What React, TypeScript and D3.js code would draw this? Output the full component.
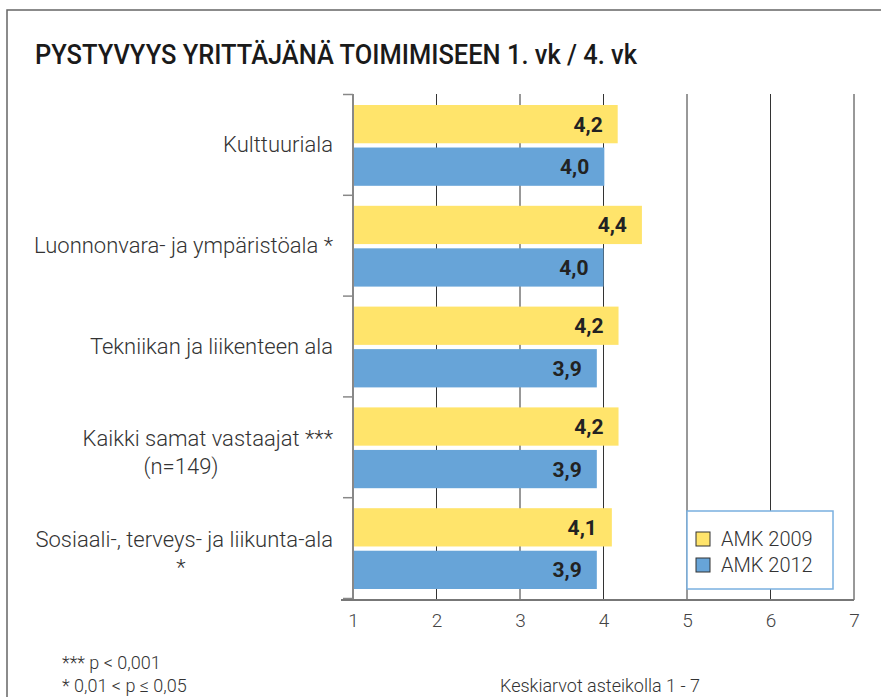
import React, { useEffect, useRef } from 'react';
import * as d3 from 'd3';

// categories (lines of each label)
const categories = [
  ['Kulttuuriala'],
  ['Luonnonvara- ja ympäristöala *'],
  ['Tekniikan ja liikenteen ala'],
  ['Kaikki samat vastaajat ***', '(n=149)'],
  ['Sosiaali-, terveys- ja liikunta-ala', '*'],
];
const seriesNames = ['AMK 2009', 'AMK 2012'];
const values2009 = [4.17, 4.46, 4.18, 4.18, 4.1];
const values2012 = [4.01, 4.0, 3.92, 3.92, 3.92];
const labels2009 = ['4,2', '4,4', '4,2', '4,2', '4,1'];
const labels2012 = ['4,0', '4,0', '3,9', '3,9', '3,9'];
const xTicks = [1, 2, 3, 4, 5, 6, 7];
const title = 'PYSTYVYYS YRITTÄJÄNÄ TOIMIMISEEN 1. vk / 4. vk';
const footnotes = ['*** p < 0,001', '* 0,01 < p ≤ 0,05'];
const scaleNote = 'Keskiarvot asteikolla 1 - 7';

const colors = ['#ffe46b', '#67a4d8'];
const font = 'Roboto, sans-serif';

function App() {
  const ref = useRef(null);

  useEffect(() => {
    const W = 881, H = 697;
    const svg = d3.select(ref.current).html('')
      .append('svg')
      .attr('width', W)
      .attr('height', H)
      .style('position', 'absolute')
      .style('left', 0)
      .style('top', 0)
      .style('font-family', font);

    svg.append('rect').attr('width', W).attr('height', H).attr('fill', '#fff');

    // outer frame (top + left)
    svg.append('path')
      .attr('d', `M7,${H} V10 H${W}`)
      .attr('fill', 'none')
      .attr('stroke', '#666')
      .attr('stroke-width', 1.5);

    svg.append('text')
      .attr('x', 35).attr('y', 64)
      .attr('font-size', 27)
      .attr('font-weight', 500)
      .attr('fill', '#1a1a1a')
      .attr('textLength', 602)
      .attr('lengthAdjust', 'spacingAndGlyphs')
      .text(title);

    const top = 94, bottom = 600;
    const x = d3.scaleLinear().domain([1, 7]).range([353, 854]);
    const y = d3.scaleBand().domain(d3.range(categories.length)).range([top, 598]);
    const sub = d3.scaleBand().domain(seriesNames)
      .range([11, y.bandwidth() - 9]).paddingInner(0.1);

    // vertical grid lines
    svg.append('g')
      .selectAll('line')
      .data(xTicks.slice(1))
      .join('line')
      .attr('x1', d => x(d)).attr('x2', d => x(d))
      .attr('y1', top).attr('y2', bottom)
      .attr('stroke', '#333')
      .attr('stroke-width', 1);

    // bars
    const series = [values2009, values2012];
    const seriesLabels = [labels2009, labels2012];
    series.forEach((vals, si) => {
      const g = svg.append('g');
      g.selectAll('rect')
        .data(vals)
        .join('rect')
        .attr('x', x(1))
        .attr('y', (d, i) => y(i) + sub(seriesNames[si]))
        .attr('width', d => x(d) - x(1))
        .attr('height', sub.bandwidth())
        .attr('fill', colors[si]);
      g.selectAll('text')
        .data(vals)
        .join('text')
        .attr('x', d => x(d) - 15)
        .attr('y', (d, i) => y(i) + sub(seriesNames[si]) + sub.bandwidth() / 2)
        .attr('dy', '0.36em')
        .attr('text-anchor', 'end')
        .attr('font-size', 21)
        .attr('font-weight', 700)
        .attr('fill', '#222')
        .text((d, i) => seriesLabels[si][i]);
    });

    // y axis with ticks at band boundaries
    const yAxisScale = d3.scaleLinear().domain([0, categories.length]).range([top, 598]);
    const yAxis = svg.append('g')
      .attr('transform', `translate(${x(1)},0)`)
      .call(d3.axisLeft(yAxisScale).tickValues(d3.range(categories.length + 1)).tickSize(10).tickFormat(() => ''));
    yAxis.select('.domain').remove();
    yAxis.append('line').attr('y1', top).attr('y2', bottom).attr('stroke', '#888').attr('stroke-width', 2);
    yAxis.selectAll('.tick line').attr('stroke', '#888').attr('stroke-width', 1.5);

    // x axis
    const xAxis = svg.append('g')
      .attr('transform', `translate(0,${bottom})`)
      .call(d3.axisBottom(x).tickValues(xTicks).tickSize(0).tickPadding(14).tickFormat(d3.format('d')));
    xAxis.select('.domain').remove();
    xAxis.append('line').attr('x1', 341).attr('x2', x(7)).attr('stroke', '#777').attr('stroke-width', 2);
    xAxis.selectAll('.tick text')
      .attr('font-size', 19)
      .attr('font-weight', 300)
      .attr('font-family', font)
      .attr('fill', '#444');

    // category labels
    const catG = svg.append('g')
      .attr('font-size', 22)
      .attr('font-weight', 300)
      .attr('fill', '#333');
    categories.forEach((lines, i) => {
      const cy = y(i) + y.bandwidth() / 2;
      if (lines.length === 1) {
        catG.append('text')
          .attr('x', 333).attr('y', cy).attr('dy', '0.36em')
          .attr('text-anchor', 'end').text(lines[0]);
      } else {
        catG.append('text')
          .attr('x', 333).attr('y', cy - 1)
          .attr('text-anchor', 'end').text(lines[0]);
        catG.append('text')
          .attr('x', 181).attr('y', cy + 27)
          .attr('text-anchor', 'middle')
          .text(lines[1]);
      }
    });

    // legend
    const lg = svg.append('g').attr('transform', 'translate(687,511)');
    lg.append('rect').attr('width', 146).attr('height', 78)
      .attr('fill', '#fff').attr('stroke', '#7ab0e0').attr('stroke-width', 1.5);
    seriesNames.forEach((name, i) => {
      lg.append('rect')
        .attr('x', 9).attr('y', 21 + i * 26)
        .attr('width', 14).attr('height', 14)
        .attr('fill', colors[i]).attr('stroke', '#333').attr('stroke-width', 1);
      lg.append('text')
        .attr('x', 34).attr('y', 35 + i * 26)
        .attr('font-size', 20)
        .attr('font-weight', 300)
        .attr('fill', '#333')
        .text(name);
    });

    // footnotes
    footnotes.forEach((f, i) => {
      svg.append('text')
        .attr('x', 62).attr('y', 669 + i * 23)
        .attr('font-size', 18)
        .attr('font-weight', 300)
        .attr('fill', '#333')
        .text(f);
    });
    svg.append('text')
      .attr('x', 500).attr('y', 692)
      .attr('font-size', 18)
      .attr('font-weight', 300)
      .attr('fill', '#333')
      .text(scaleNote);
  }, []);

  return <div ref={ref}></div>;
}

export default App;
